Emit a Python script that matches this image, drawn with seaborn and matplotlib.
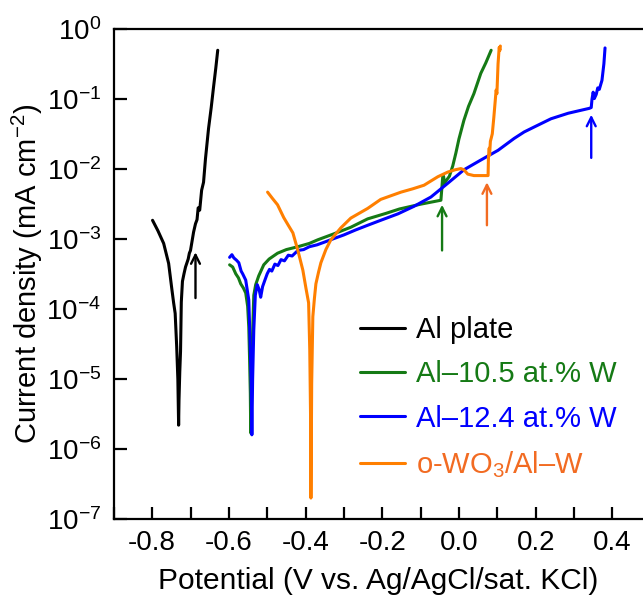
import numpy as np
import pandas as pd
import matplotlib
matplotlib.use("Agg")
import matplotlib.pyplot as plt
import seaborn as sns
from matplotlib.ticker import LogLocator, FixedLocator, FuncFormatter, MultipleLocator

# --- data (V vs. Ag/AgCl, mA cm-2) ---
al_plate_v = [-0.799, -0.785, -0.770, -0.757, -0.749, -0.744, -0.740, -0.736, -0.733, -0.731,
              -0.730, -0.728, -0.726, -0.724, -0.721, -0.717, -0.713, -0.706, -0.703, -0.700,
              -0.692, -0.687, -0.683, -0.680, -0.676, -0.671, -0.666, -0.661, -0.653, -0.646,
              -0.640, -0.634, -0.629]
al_plate_i = [1.86e-3, 1.32e-3, 8.7e-4, 4.5e-4, 2.0e-4, 1.23e-4, 8.7e-5, 2.9e-5, 1.0e-5, 2.2e-6,
              5e-6, 1.26e-5, 2.5e-5, 1.26e-4, 2.5e-4, 3.2e-4, 4.0e-4, 5.2e-4, 6.3e-4, 6.9e-4,
              1.26e-3, 1.66e-3, 1.9e-3, 2.8e-3, 2.6e-3, 5.0e-3, 6.5e-3, 1.4e-2, 3.8e-2, 7.6e-2,
              0.148, 0.28, 0.5]

w105_v = [-0.598, -0.590, -0.582, -0.575, -0.569, -0.562, -0.556, -0.551, -0.548, -0.546,
          -0.544, -0.543, -0.541, -0.538, -0.535, -0.530, -0.522, -0.509, -0.495, -0.473,
          -0.450, -0.420, -0.390, -0.368, -0.330, -0.282, -0.238, -0.190, -0.155, -0.100,
          -0.047, -0.042, -0.040, -0.038, -0.033, -0.025, -0.016, -0.008, 0.000, 0.013,
          0.025, 0.039, 0.057, 0.070, 0.084]
w105_i = [4.3e-4, 4.0e-4, 3.2e-4, 2.8e-4, 2.3e-4, 2.0e-4, 1.7e-4, 1.1e-4, 5.5e-5, 2.0e-5,
          6.3e-6, 1.7e-6, 1.0e-5, 4.6e-5, 1.58e-4, 2.24e-4, 3.0e-4, 4.3e-4, 5.2e-4, 6.3e-4,
          7.1e-4, 7.8e-4, 8.7e-4, 9.8e-4, 1.17e-3, 1.48e-3, 1.95e-3, 2.34e-3, 2.7e-3, 3.16e-3,
          3.6e-3, 8.1e-3, 7.9e-3, 6.3e-3, 6.9e-3, 7.9e-3, 1.12e-2, 1.7e-2, 2.7e-2, 5.0e-2,
          7.9e-2, 0.12, 0.234, 0.33, 0.5]

w124_v = [-0.598, -0.592, -0.587, -0.580, -0.574, -0.568, -0.564, -0.556, -0.548, -0.545,
          -0.542, -0.540, -0.538, -0.535, -0.531, -0.526, -0.521, -0.517, -0.512, -0.506,
          -0.500, -0.494, -0.488, -0.480, -0.472, -0.464, -0.455, -0.445, -0.435, -0.420,
          -0.405, -0.390, -0.370, -0.350, -0.326, -0.300, -0.270, -0.238, -0.204, -0.159,
          -0.117, -0.073, -0.029, 0.013, 0.057, 0.102, 0.144, 0.170, 0.196, 0.240,
          0.285, 0.340, 0.345, 0.347, 0.350, 0.353, 0.358, 0.362, 0.366, 0.373,
          0.378, 0.381]
w124_i = [5.5e-4, 6.0e-4, 5.4e-4, 5.0e-4, 4.6e-4, 3.5e-4, 3.2e-4, 2.6e-4, 1.35e-4, 4e-5,
          1e-5, 1.6e-6, 1.0e-5, 5.0e-5, 1.58e-4, 2.24e-4, 1.9e-4, 1.48e-4, 2.1e-4, 2.6e-4,
          3.2e-4, 3.7e-4, 3.5e-4, 4.4e-4, 4.2e-4, 5.1e-4, 4.9e-4, 5.9e-4, 5.75e-4, 6.9e-4,
          7.1e-4, 7.8e-4, 8.3e-4, 9.1e-4, 1.02e-3, 1.15e-3, 1.35e-3, 1.58e-3, 1.86e-3, 2.3e-3,
          2.95e-3, 4.0e-3, 6.3e-3, 9.8e-3, 1.35e-2, 1.86e-2, 2.75e-2, 3.4e-2, 4.0e-2, 5.25e-2,
          6.3e-2, 7.4e-2, 7.6e-2, 0.10, 0.126, 0.102, 0.117, 0.145, 0.138, 0.186,
          0.32, 0.54]

wo3_v = [-0.499, -0.486, -0.473, -0.457, -0.445, -0.433, -0.420, -0.407, -0.399, -0.392,
         -0.389, -0.387, -0.386, -0.385, -0.384, -0.381, -0.377, -0.373, -0.366, -0.360,
         -0.347, -0.334, -0.308, -0.282, -0.238, -0.204, -0.151, -0.120, -0.091, -0.055,
         -0.029, -0.010, 0.005, 0.013, 0.023, 0.039, 0.060, 0.076, 0.077, 0.079,
         0.080, 0.082, 0.084, 0.087, 0.091, 0.095, 0.097, 0.099, 0.102, 0.105,
         0.107, 0.108]
wo3_i = [4.7e-3, 3.8e-3, 3.1e-3, 2.04e-3, 1.58e-3, 1.23e-3, 6.9e-4, 3.6e-4, 2.0e-4, 1.23e-4,
         2.6e-5, 3.2e-6, 2.0e-7, 1.0e-6, 8.7e-6, 7.8e-5, 1.4e-4, 2.3e-4, 3.4e-4, 4.6e-4,
         7.1e-4, 9.8e-4, 1.45e-3, 2.0e-3, 2.75e-3, 3.7e-3, 4.7e-3, 5.25e-3, 5.9e-3, 7.8e-3,
         9.1e-3, 9.8e-3, 1.02e-2, 9.8e-3, 8.5e-3, 8.1e-3, 8.1e-3, 8.1e-3, 1.48e-2, 2.0e-2,
         1.6e-2, 2.5e-2, 2.75e-2, 3.2e-2, 5.5e-2, 0.10, 0.135, 0.12, 0.32, 0.55,
         0.5, 0.575]

# arrows marking breakdown: (potential, current at tail, current at tip)
arrow_v = [-0.687, -0.044, 0.073, 0.345]
arrow_tail = [1.44e-4, 6.9e-4, 1.58e-3, 1.45e-2]
arrow_tip = [6.5e-4, 3.1e-3, 6.5e-3, 6.0e-2]

labels = ["Al plate", "Al\u201310.5 at.% W", "Al\u201312.4 at.% W", "o-WO$_3$/Al\u2013W"]
colors = ["#000000", "#157a15", "#0000ff", "#ff7f00"]
text_colors = ["#000000", "#157a15", "#0000ff", "#f26b22"]
arrow_colors = ["#000000", "#157a15", "#f26b22", "#0000ff"]

sns.set_style("ticks")
plt.rcParams["font.family"] = ["Liberation Sans", "DejaVu Sans"]
plt.rcParams["mathtext.fontset"] = "custom"
plt.rcParams["mathtext.rm"] = "Liberation Sans"
plt.rcParams["mathtext.it"] = "Liberation Sans:italic"
plt.rcParams["axes.unicode_minus"] = False
for key in ["text.color", "axes.labelcolor", "xtick.color", "ytick.color", "axes.edgecolor"]:
    plt.rcParams[key] = "black"

fig = plt.figure(figsize=(6.43, 5.96), dpi=100)
ax = fig.add_axes([0.177, 0.129, 0.823, 0.822])

curves = [(al_plate_v, al_plate_i), (w105_v, w105_i), (w124_v, w124_i), (wo3_v, wo3_i)]
draw_order = [2, 1, 3, 0]
for k in draw_order:
    v, i = curves[k]
    sns.lineplot(x=v, y=i, sort=False, estimator=None, color=colors[k], lw=2.2,
                 ax=ax, zorder=3 + k)

for v, t0, t1, c in zip(arrow_v, arrow_tail, arrow_tip, arrow_colors):
    ax.annotate("", xy=(v, t1), xytext=(v, t0),
                arrowprops=dict(arrowstyle="->", color=c, lw=1.7,
                                mutation_scale=16, shrinkA=0, shrinkB=0))

ax.set_yscale("log")
ax.set_xlim(-0.9, 0.48)
ax.set_ylim(1e-7, 1e0)
ax.xaxis.set_major_locator(FixedLocator([-0.8, -0.6, -0.4, -0.2, 0.0, 0.2, 0.4]))
ax.xaxis.set_minor_locator(MultipleLocator(0.1))
ax.xaxis.set_major_formatter(FuncFormatter(lambda x, p: f"{x:.1f}" if abs(x) > 1e-9 else "0.0"))
ax.yaxis.set_major_locator(LogLocator(base=10, numticks=20))
ax.yaxis.set_minor_locator(FixedLocator([]))
ax.yaxis.set_major_formatter(FuncFormatter(lambda y, p: r"$10^{%d}$" % round(np.log10(y))))

ax.tick_params(which="both", direction="in", width=1.6, length=9, labelsize=20, pad=8)
ax.tick_params(axis="y", pad=9)
ax.tick_params(axis="x", which="both", top=False)
ax.tick_params(axis="y", right=False)
for s in ["left", "bottom", "top"]:
    ax.spines[s].set_linewidth(1.6)
ax.spines["right"].set_visible(False)

ax.set_xlabel("Potential (V vs. Ag/AgCl/sat. KCl)", fontsize=21.5, labelpad=8)
ax.set_ylabel("Current density (mA cm$^{-2}$)", fontsize=21, labelpad=1)

handles = [plt.Line2D([], [], color=c, lw=2.2) for c in colors]
leg = ax.legend(handles, labels, loc="upper left", bbox_to_anchor=(0.560, 0.470),
                bbox_transform=fig.transFigure, frameon=False, fontsize=21,
                handlelength=1.55, handletextpad=0.38, labelspacing=0.56, borderpad=0,
                borderaxespad=0)
for txt, c in zip(leg.get_texts(), text_colors):
    txt.set_color(c)

fig.savefig("out.png", dpi=100)
